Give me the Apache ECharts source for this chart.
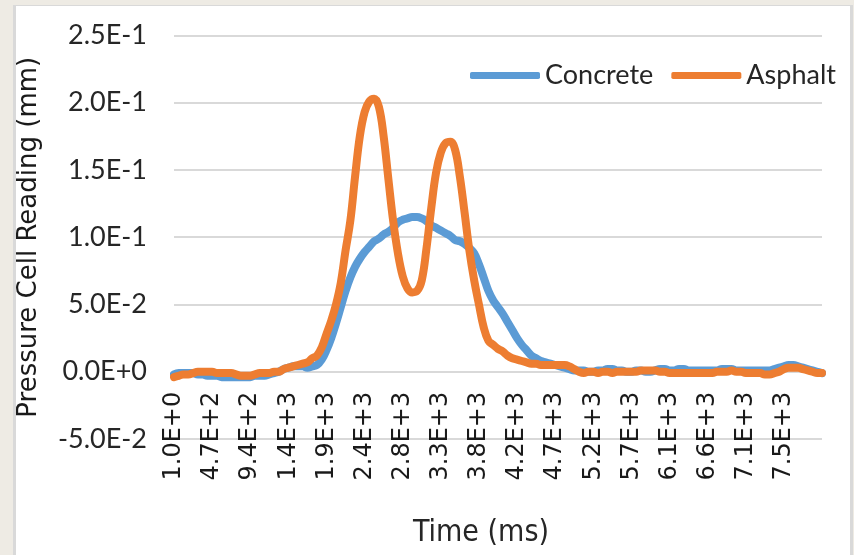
<!DOCTYPE html>
<html>
<head>
<meta charset="utf-8">
<script src="https://cdn.jsdelivr.net/npm/echarts@6/dist/echarts.min.js"></script>
<style>
  html, body { margin: 0; padding: 0; background: #eeebe4; }
  #frame { position: absolute; left: 13px; top: 5px; width: 834px; height: 560px;
           background: #ffffff; border-top: 1px solid #d9d9d9; border-left: 3px solid #d9d9d9; border-right: 3px solid #d9d9d9; }
  #chart { position: absolute; left: 0; top: 0; width: 854px; height: 555px; }
</style>
</head>
<body>
<div id="frame"></div>
<div id="chart"></div>
<script>
// Sampling grid of the time axis (ms): first sample and spacing between samples
const timeStart = 1;
const timeStep = 58.875;
const samplesPerTick = 8;

// Tick labels shown along the time axis
const xTickLabels = ['1.0E+0','4.7E+2','9.4E+2','1.4E+3','1.9E+3','2.4E+3','2.8E+3','3.3E+3','3.8E+3',
  '4.2E+3','4.7E+3','5.2E+3','5.7E+3','6.1E+3','6.6E+3','7.1E+3','7.5E+3'];

// Series names
const seriesNames = ['Concrete', 'Asphalt'];

// Concrete pressure cell reading (mm)
const concrete = [
  -0.002,-0.001,-0.001,-0.001,-0.001,-0.002,-0.002,-0.003,-0.003,-0.003,
  -0.004,-0.004,-0.004,-0.004,-0.004,-0.004,-0.004,-0.003,-0.003,-0.003,
  -0.002,-0.001,0.000,0.002,0.003,0.004,0.004,0.004,0.003,0.004,
  0.005,0.009,0.016,0.025,0.036,0.048,0.060,0.070,0.078,0.084,
  0.089,0.093,0.097,0.099,0.102,0.104,0.107,0.111,0.113,0.114,
  0.115,0.115,0.114,0.112,0.109,0.107,0.105,0.103,0.101,0.098,
  0.097,0.095,0.092,0.088,0.080,0.070,0.060,0.053,0.048,0.043,
  0.037,0.031,0.025,0.020,0.016,0.012,0.010,0.008,0.007,0.006,
  0.005,0.004,0.003,0.002,0.001,0.001,0.001,0.000,0.000,0.001,
  0.001,0.002,0.002,0.001,0.001,0.000,0.000,0.001,0.001,0.000,
  0.000,0.001,0.002,0.002,0.001,0.001,0.002,0.002,0.001,0.001,
  0.001,0.001,0.001,0.001,0.001,0.002,0.002,0.002,0.001,0.001,
  0.001,0.001,0.001,0.001,0.001,0.001,0.002,0.003,0.004,0.005,
  0.005,0.004,0.003,0.002,0.001,0.000,-0.001
];

// Asphalt pressure cell reading (mm)
const asphalt = [
  -0.004,-0.003,-0.002,-0.002,-0.001,0.000,0.000,0.000,0.000,-0.001,
  -0.001,-0.001,-0.001,-0.002,-0.003,-0.003,-0.003,-0.002,-0.001,-0.001,
  -0.001,0.000,0.000,0.002,0.003,0.004,0.005,0.006,0.007,0.010,
  0.012,0.018,0.028,0.038,0.050,0.066,0.090,0.112,0.145,0.175,
  0.193,0.201,0.203,0.197,0.175,0.143,0.112,0.088,0.071,0.062,
  0.059,0.060,0.068,0.092,0.122,0.148,0.163,0.170,0.171,0.165,
  0.145,0.118,0.090,0.068,0.050,0.033,0.023,0.020,0.017,0.015,
  0.012,0.010,0.009,0.008,0.007,0.006,0.006,0.005,0.005,0.005,
  0.005,0.005,0.005,0.004,0.002,0.000,-0.001,0.000,0.000,-0.001,
  0.000,0.000,-0.001,0.000,0.000,0.000,0.000,0.000,0.001,0.001,
  0.001,0.001,0.000,0.000,-0.001,-0.001,-0.001,-0.001,-0.001,-0.001,
  -0.001,-0.001,-0.001,-0.001,0.000,0.000,0.000,0.001,0.000,0.000,
  -0.001,-0.001,-0.001,-0.001,-0.002,-0.002,-0.001,0.000,0.002,0.003,
  0.003,0.003,0.002,0.001,0.000,-0.001,-0.001
];

// Y axis range
const yMin = -0.05, yMax = 0.25, yStep = 0.05;

const times = concrete.map((_, i) => (timeStart + i * timeStep).toFixed(3));

const gridTop = 35.5, gridBottom = 116, chartH = 555;
// distance (px) from the grid bottom up to the zero line, so the time axis sits on y = 0
const plotH = chartH - gridTop - gridBottom;
const zeroOffset = -plotH * (0 - yMin) / (yMax - yMin);

const chart = echarts.init(document.getElementById('chart'), null, { renderer: 'canvas' });
chart.setOption({
  animation: false,
  backgroundColor: 'transparent',
  grid: { left: 174, right: 32, top: gridTop, bottom: gridBottom, containLabel: false, outerBoundsMode: 'none' },
  legend: {
    left: 470, top: 62, padding: 0,
    itemWidth: 70, itemHeight: 7, itemGap: 18,
    icon: 'roundRect',
    textStyle: { fontFamily: 'Lato', fontSize: 27, color: '#262626' },
    data: seriesNames
  },
  xAxis: {
    type: 'category',
    data: times,
    boundaryGap: false,
    position: 'bottom',
    offset: zeroOffset,
    name: 'Time (ms)',
    nameLocation: 'middle',
    nameGap: 146,
    nameTextStyle: { fontFamily: 'DejaVu Sans Condensed', fontSize: 30, color: '#262626', padding: [0, 34, 0, 0] },
    axisLine: { onZero: false, lineStyle: { color: '#d9d9d9', width: 2 } },
    axisTick: { show: false },
    splitLine: { show: false },
    axisLabel: {
      rotate: 90,
      interval: samplesPerTick - 1,
      margin: 20,
      fontFamily: 'DejaVu Sans',
      fontSize: 24,
      color: '#1a1a1a',
      formatter: (v, idx) => (idx % samplesPerTick === 0 ? (xTickLabels[idx / samplesPerTick] || '') : '')
    }
  },
  yAxis: {
    type: 'value',
    min: yMin, max: yMax, interval: yStep,
    name: 'Pressure Cell Reading (mm)',
    nameLocation: 'middle',
    nameGap: 132,
    nameTextStyle: { fontFamily: 'DejaVu Sans', fontSize: 26, color: '#1a1a1a' },
    axisLine: { show: false },
    axisTick: { show: false },
    splitLine: { lineStyle: { color: '#d9d9d9', width: 2 } },
    axisLabel: {
      margin: 27,
      fontFamily: 'Lato',
      fontSize: 27,
      color: '#262626',
      formatter: v => Number(v).toExponential(1).toUpperCase()
    }
  },
  series: [
    {
      name: seriesNames[0], type: 'line', data: concrete,
      showSymbol: false, smooth: 0.4,
      lineStyle: { color: '#5b9bd5', width: 8, cap: 'round', join: 'round' },
      itemStyle: { color: '#5b9bd5' }
    },
    {
      name: seriesNames[1], type: 'line', data: asphalt,
      showSymbol: false, smooth: 0.4,
      lineStyle: { color: '#ed7d31', width: 8, cap: 'round', join: 'round' },
      itemStyle: { color: '#ed7d31' }
    }
  ]
});
</script>
</body>
</html>
